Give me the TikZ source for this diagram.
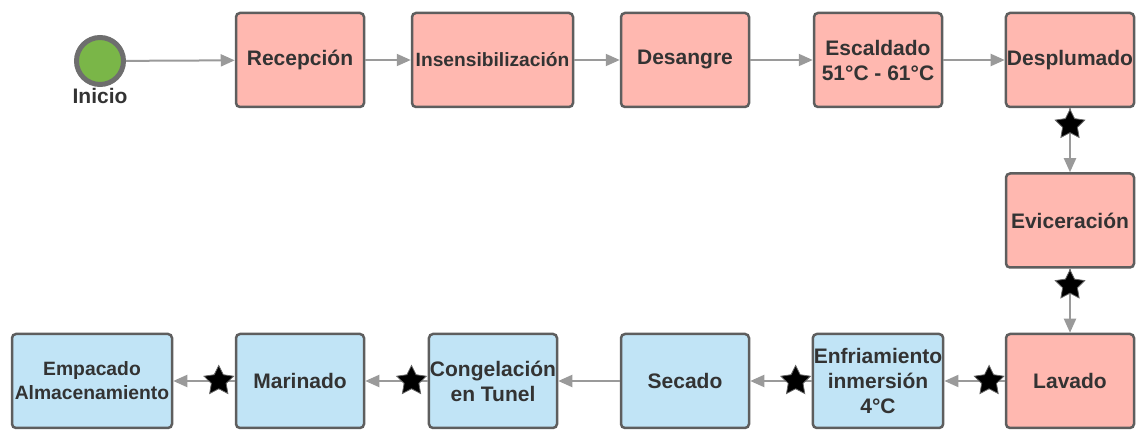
\documentclass[tikz,border=0pt]{standalone}
\usepackage{fontspec}
\setmainfont{Liberation Sans}
\usetikzlibrary{shapes.geometric,arrows.meta}
\definecolor{pinkfill}{HTML}{FFB8B0}
\definecolor{bluefill}{HTML}{C1E4F6}
\definecolor{boxborder}{HTML}{5E5E5E}
\definecolor{arrowgrey}{HTML}{9A9A9A}
\definecolor{txt}{HTML}{333333}
\definecolor{startgreen}{HTML}{7AB648}
\begin{document}
\begin{tikzpicture}[x=1pt,y=-1pt,
  box/.style={draw=boxborder, line width=2.5pt, rounded corners=4pt, minimum width=128pt, minimum height=94pt, inner sep=1pt, align=center, text=txt, font=\fontsize{21}{25}\selectfont\bfseries},
  pinkbox/.style={box, fill=pinkfill},
  bluebox/.style={box, fill=bluefill},
  conn/.style={draw=arrowgrey, line width=2pt, -{Triangle[length=14pt,width=12pt]}},
  starmark/.style={star, star points=5, star point ratio=2.0, fill=black, draw=black!60, line width=0.8pt, minimum size=31pt, inner sep=0pt}
]
\useasboundingbox (0,0) rectangle (1136,430);
\node[circle, fill=startgreen, draw=boxborder!90, line width=5pt, minimum size=47pt, inner sep=0pt] (start) at (100,61) {};
\node[text=txt, font=\fontsize{21}{25}\selectfont\bfseries] (startlbl) at (100,96) {Inicio};
\node[pinkbox] (recep) at (300,60) {Recepción};
\node[pinkbox, minimum width=161pt, font=\fontsize{19.2}{23}\selectfont\bfseries] (insens) at (492.5,60) {Insensibilización};
\node[pinkbox] (desang) at (685,60) {Desangre};
\node[pinkbox] (escal) at (878,60) {Escaldado\\51°C - 61°C};
\node[pinkbox] (despl) at (1070,60) {Desplumado};
\node[pinkbox] (evic) at (1070,220.5) {Eviceración};
\node[pinkbox] (lavado) at (1070,381) {Lavado};
\node[bluebox] (enfr) at (878,381) {Enfriamiento\\inmersión\\4°C};
\node[bluebox] (secado) at (685,381) {Secado};
\node[bluebox] (congel) at (493,381) {Congelación\\en Tunel};
\node[bluebox] (marin) at (300,381) {Marinado};
\node[bluebox, minimum width=160pt, font=\fontsize{19.3}{24}\selectfont\bfseries] (empac) at (92,381) {Empacado\\Almacenamiento};

\draw[conn] (start) -- (recep);
\draw[conn] (recep) -- (insens);
\draw[conn] (insens) -- (desang);
\draw[conn] (desang) -- (escal);
\draw[conn] (escal) -- (despl);
\draw[conn] (despl) -- node[starmark, pos=0.26] (s1) {} (evic);
\draw[conn] (evic) -- node[starmark, pos=0.26] (s2) {} (lavado);
\draw[conn] (lavado) -- node[starmark, pos=0.26] (s3) {} (enfr);
\draw[conn] (enfr) -- node[starmark, pos=0.26] (s4) {} (secado);
\draw[conn] (secado) -- (congel);
\draw[conn] (congel) -- node[starmark, pos=0.26] (s5) {} (marin);
\draw[conn] (marin) -- node[starmark, pos=0.26] (s6) {} (empac);
\end{tikzpicture}
\end{document}
